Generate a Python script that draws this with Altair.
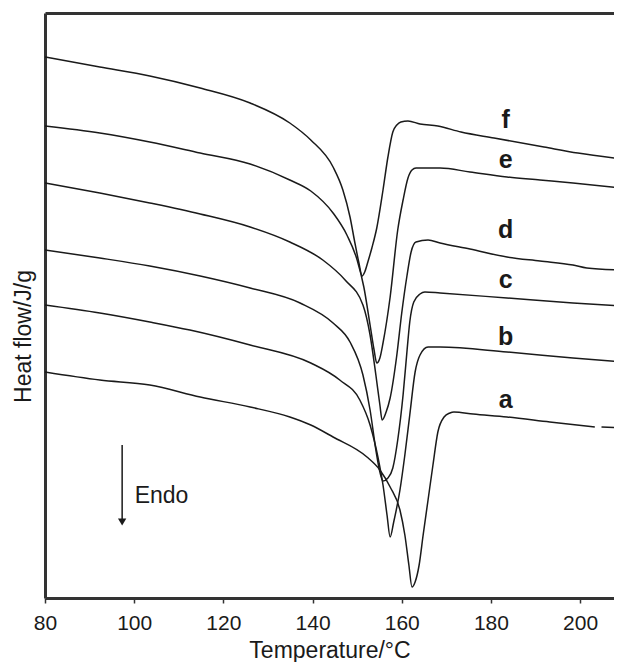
import altair as alt
import pandas as pd

# ---- data (temperature in °C, heat flow in arbitrary units) ----
f_T = [80, 92.3, 103.5, 114.8, 126.0, 134.9, 139.6, 144.6, 146.8, 148.4, 149.5, 150.4, 151.1,
       151.7, 152.4, 153.3, 154.4, 155.8, 156.9, 158.0, 158.9, 159.8, 161.4, 164.1, 168.1,
       173.3, 180.7, 191.9, 199.5, 209.4]
f_H = [54.1, 53.1, 52.2, 51.0, 49.5, 47.5, 45.8, 43.1, 40.8, 38.1, 35.5, 33.5, 32.2,
       32.6, 33.6, 35.0, 37.0, 40.8, 44.1, 46.6, 47.3, 47.6, 47.7, 47.4, 47.2,
       46.6, 46.0, 45.1, 44.5, 43.9]

e_T = [80, 92.3, 103.5, 114.8, 126.0, 134.9, 139.6, 144.6, 147.7, 150.0, 151.5, 152.9, 153.8,
       154.4, 155.1, 155.8, 157.4, 159.1, 160.3, 161.4, 162.3, 163.2, 168.6, 175.3, 183.6,
       191.0, 198.4, 209.4]
e_H = [47.2, 46.5, 45.6, 44.5, 43.4, 41.8, 40.7, 38.5, 36.3, 33.8, 31.1, 27.3, 24.8,
       23.5, 24.0, 25.5, 30.1, 36.8, 39.8, 42.0, 42.8, 43.0, 43.0, 42.6, 42.1,
       41.8, 41.5, 41.0]

d_T = [80, 92.3, 103.5, 114.8, 126.0, 134.9, 142.3, 147.3, 151.3, 152.9, 154.2, 155.1, 155.6,
       156.5, 157.4, 158.9, 160.0, 161.2, 162.1, 163.2, 165.9, 168.6, 175.3, 183.6, 191.0,
       198.4, 201.5, 209.4]
d_H = [41.5, 40.5, 39.5, 38.4, 37.1, 35.6, 33.8, 31.8, 29.3, 26.3, 22.3, 19.3, 17.8,
       18.6, 20.0, 24.3, 28.5, 32.3, 34.6, 35.6, 35.8, 35.5, 34.9, 34.1, 33.7,
       33.3, 33.0, 32.8]

c_T = [80, 92.3, 103.5, 114.8, 126.0, 137.2, 144.6, 148.4, 151.3, 152.9, 154.2, 155.1, 155.8,
       156.9, 158.0, 159.1, 160.3, 161.2, 161.8, 162.7, 164.1, 165.2, 168.6, 183.6, 198.4, 209.4]
c_H = [34.8, 34.0, 33.2, 32.2, 31.0, 29.5, 27.5, 25.6, 22.3, 18.8, 14.8, 12.6, 11.7,
       12.0, 13.0, 15.8, 20.3, 24.8, 27.6, 29.6, 30.4, 30.6, 30.5, 30.0, 29.5, 29.2]

b_T = [80, 92.3, 103.5, 112.5, 126.0, 139.6, 146.1, 150.6, 152.9, 154.7, 155.8, 156.7, 157.4,
       158.2, 159.6, 160.7, 161.8, 163.0, 164.1, 165.9, 168.6, 183.6, 198.4, 209.4]
b_H = [29.3, 28.5, 27.6, 26.8, 25.3, 23.5, 21.8, 19.8, 17.3, 14.0, 11.3, 8.3, 6.1,
       7.6, 10.8, 14.3, 18.3, 22.6, 24.3, 25.1, 25.1, 24.6, 24.0, 23.6]

a_T = [80, 92.3, 103.5, 114.8, 126.0, 134.9, 139.6, 144.6, 152.2, 155.1, 157.4, 159.6, 160.7,
       161.6, 162.3, 163.0, 163.9, 164.8, 165.9, 167.0, 168.1, 169.5, 170.8, 171.7, 176.0,
       183.6, 193.2, 203.3]
a_H = [22.6, 21.8, 21.3, 20.1, 19.1, 18.1, 17.3, 16.1, 14.1, 12.8, 11.1, 8.8, 6.3,
       3.3, 1.1, 1.6, 3.3, 6.3, 9.8, 13.3, 16.6, 18.1, 18.5, 18.6, 18.4,
       18.1, 17.6, 17.1]
a_tail_T = [204.8, 209.4]
a_tail_H = [17.1, 17.0]

label_names = ["a", "b", "c", "d", "e", "f"]
label_T = [183.3, 183.3, 183.3, 183.3, 183.3, 183.3]
label_H = [19.8, 26.1, 31.8, 36.8, 43.8, 47.8]

x_ticks = [80, 100, 120, 140, 160, 180, 200]
x_domain = [80, 207.6]
y_domain = [0, 58.5]

arrow_T = [97.3]
arrow_top = [15.3]
arrow_bottom = [7.6]
endo_T = [100.1]
endo_H = [10.2]

# ---- build tables ----
rows = []
for seg, ts, hs in [("f", f_T, f_H), ("e", e_T, e_H), ("d", d_T, d_H), ("c", c_T, c_H),
                    ("b", b_T, b_H), ("a", a_T, a_H), ("a2", a_tail_T, a_tail_H)]:
    for t, h in zip(ts, hs):
        rows.append({"seg": seg, "T": t, "H": h})
curves = pd.DataFrame(rows)
labels = pd.DataFrame({"name": label_names, "T": label_T, "H": label_H})
arrow = pd.DataFrame({"T": arrow_T, "H": arrow_top, "H2": arrow_bottom})
endo = pd.DataFrame({"T": endo_T, "H": endo_H, "txt": ["Endo"]})

FONT = "Liberation Sans"
INK = "#1a1a1a"
xscale = alt.Scale(domain=x_domain, nice=False, zero=False)
yscale = alt.Scale(domain=y_domain, nice=False, zero=False)

yaxis = alt.Axis(title="Heat flow/J/g", labels=False, ticks=False, grid=False,
                 domainWidth=3, domainColor="#333333", titleFont=FONT,
                 titleFontSize=23, titleFontWeight="normal", titleColor=INK,
                 titleX=-15, titleY=323, titleBaseline="alphabetic", titleAngle=270)

lines = alt.Chart(curves).mark_line(interpolate="monotone", color=INK, strokeWidth=1.5,
                                    clip=True).encode(
    x=alt.X("T:Q", scale=xscale,
            axis=alt.Axis(values=x_ticks, title="Temperature/°C", grid=False,
                          domainWidth=3, domainColor="#333333", tickSize=5, tickWidth=1.5,
                          tickColor="#333333", labelFont=FONT, labelFontSize=21,
                          labelColor=INK, labelPadding=9, labelFlush=False,
                          labelOverlap=False, titleFont=FONT,
                          titleFontSize=23, titleFontWeight="normal", titleColor=INK,
                          titlePadding=6)),
    y=alt.Y("H:Q", scale=yscale, axis=yaxis),
    detail="seg:N",
)

text = alt.Chart(labels).mark_text(font=FONT, fontSize=25, fontWeight="bold", color=INK,
                                   align="center", baseline="middle").encode(
    x=alt.X("T:Q", scale=xscale, axis=None),
    y=alt.Y("H:Q", scale=yscale, axis=yaxis),
    text="name:N",
)

rule = alt.Chart(arrow).mark_rule(color=INK, strokeWidth=1.5).encode(
    x=alt.X("T:Q", scale=xscale,
            axis=alt.Axis(orient="top", labels=False, ticks=False, title=None, grid=False,
                          domainWidth=3, domainColor="#333333")),
    y=alt.Y("H:Q", scale=yscale, axis=yaxis),
    y2="H2:Q",
)

head = alt.Chart(arrow).mark_point(shape="triangle-down", filled=True, color=INK, size=70,
                                   opacity=1).encode(
    x=alt.X("T:Q", scale=xscale, axis=None),
    y=alt.Y("H2:Q", scale=yscale, axis=yaxis),
)

endo_txt = alt.Chart(endo).mark_text(font=FONT, fontSize=23, color=INK, align="left",
                                     baseline="middle").encode(
    x=alt.X("T:Q", scale=xscale, axis=None),
    y=alt.Y("H:Q", scale=yscale, axis=yaxis),
    text="txt:N",
)

chart = alt.layer(lines, text, rule, head, endo_txt).resolve_axis(x="independent").properties(
    width=569, height=585,
    autosize=alt.AutoSizeParams(type="none"),
    padding={"left": 37, "top": 5, "right": 0, "bottom": 64},
    background="white",
).configure_view(stroke=None)

chart.save("out.html", embed_options={"renderer": "svg", "actions": False})
